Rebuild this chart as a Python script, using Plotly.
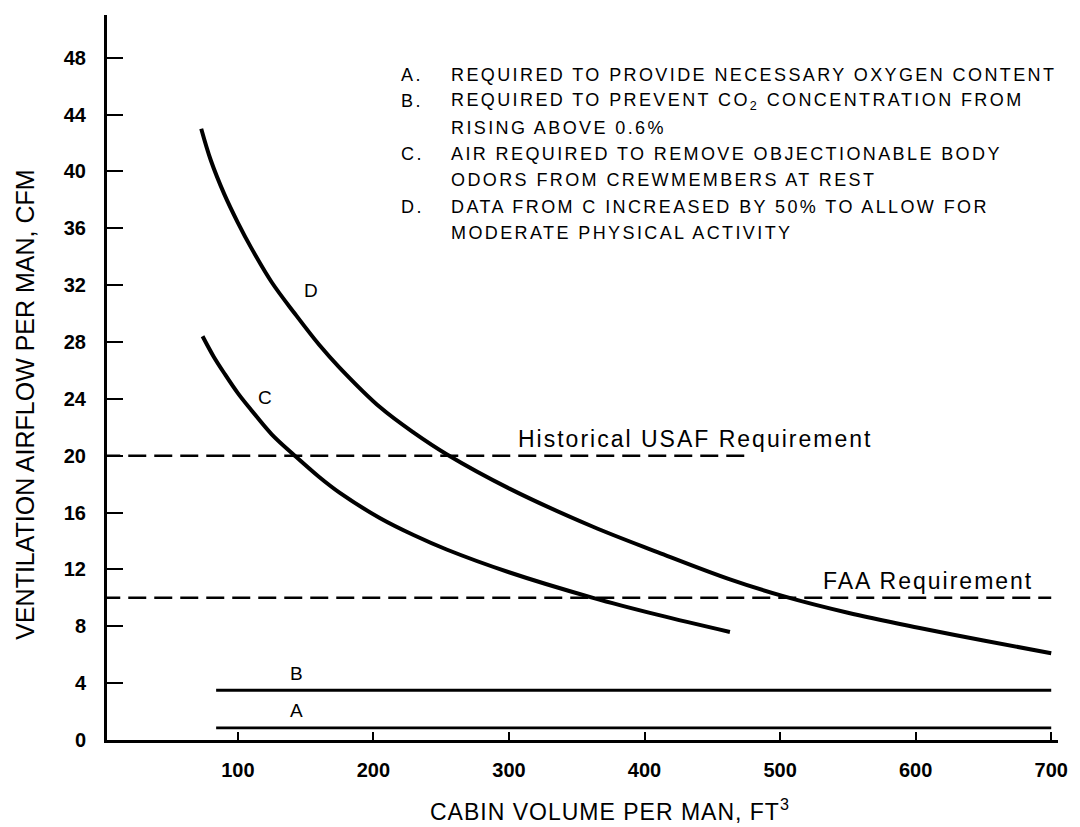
import plotly.graph_objects as go

# Cabin volume per man (ft^3) and ventilation airflow per man (CFM)
c_volume = [74, 82, 90, 100, 110, 125, 142, 160, 175, 205, 230, 254, 300, 362, 410, 463]
c_airflow = [28.4, 27.0, 25.8, 24.4, 23.2, 21.5, 20.0, 18.5, 17.4, 15.6, 14.4, 13.4, 11.8, 10.0, 8.8, 7.6]

d_volume = [73, 80, 90, 100, 110, 125, 142, 160, 175, 205, 230, 254, 300, 362, 410, 463,
            503, 550, 602, 650, 700]
d_airflow = [43.0, 40.8, 38.4, 36.4, 34.6, 32.2, 30.0, 27.8, 26.2, 23.4, 21.6, 20.1, 17.7, 15.0,
             13.2, 11.3, 10.1, 8.95, 7.9, 7.0, 6.1]

ab_volume = [84, 700]
a_airflow = [0.85, 0.85]
b_airflow = [3.5, 3.5]

usaf_volume = [0, 478]
usaf_airflow = [20, 20]
faa_volume = [0, 700]
faa_airflow = [10, 10]

x_ticks = [100, 200, 300, 400, 500, 600, 700]
y_ticks = [0, 4, 8, 12, 16, 20, 24, 28, 32, 36, 40, 44, 48]

notes = [
    ("A.", "REQUIRED TO PROVIDE NECESSARY OXYGEN CONTENT"),
    ("B.", "REQUIRED TO PREVENT CO<sub>2</sub> CONCENTRATION FROM"),
    ("", "RISING ABOVE 0.6%"),
    ("C.", "AIR REQUIRED TO REMOVE OBJECTIONABLE BODY"),
    ("", "ODORS FROM CREWMEMBERS AT REST"),
    ("D.", "DATA FROM C INCREASED BY 50% TO ALLOW FOR"),
    ("", "MODERATE PHYSICAL ACTIVITY"),
]

FONT = "Liberation Sans, Arial, sans-serif"
W, H = 1080, 827
L, R, T, B = 107, 1067, 15, 740


def px_x(px):
    return (px - L) / (R - L)


def px_y(py):
    return (B - py) / (B - T)


fig = go.Figure()

solid = dict(color="black", width=4, shape="spline", smoothing=1.0)
fig.add_trace(go.Scatter(x=d_volume, y=d_airflow, mode="lines", line=solid, hoverinfo="skip"))
fig.add_trace(go.Scatter(x=c_volume, y=c_airflow, mode="lines", line=solid, hoverinfo="skip"))
fig.add_trace(go.Scatter(x=ab_volume, y=b_airflow, mode="lines",
                         line=dict(color="black", width=2.8), hoverinfo="skip"))
fig.add_trace(go.Scatter(x=ab_volume, y=a_airflow, mode="lines",
                         line=dict(color="black", width=2.8), hoverinfo="skip"))
dashed = dict(color="black", width=2.5, dash="18px,8px")
fig.add_trace(go.Scatter(x=usaf_volume, y=usaf_airflow, mode="lines", line=dashed, hoverinfo="skip"))
fig.add_trace(go.Scatter(x=faa_volume, y=faa_airflow, mode="lines", line=dashed, hoverinfo="skip"))

ann = []
# curve letters
for txt, xv, yv in [("D", 154, 31.6), ("C", 120, 24.1), ("B", 143, 4.65), ("A", 143, 2.05)]:
    ann.append(dict(x=xv, y=yv, xref="x", yref="y", text=txt, showarrow=False,
                    font=dict(size=19, family=FONT, color="black")))

# requirement labels
req_style = '<span style="letter-spacing:2px">{}</span>'
ann.append(dict(x=305, y=21.2, xref="x", yref="y", xanchor="left",
                text=req_style.format("Historical USAF Requirement"), showarrow=False,
                font=dict(size=23, family=FONT, color="black")))
ann.append(dict(x=530, y=11.2, xref="x", yref="y", xanchor="left",
                text=req_style.format("FAA Requirement"), showarrow=False,
                font=dict(size=23, family=FONT, color="black")))

# explanatory notes
note_style = '<span style="letter-spacing:2.4px">{}</span>'
for i, (key, line) in enumerate(notes):
    yc = 75 + 26.3 * i
    if key:
        ann.append(dict(x=px_x(402), y=px_y(yc), xref="paper", yref="paper",
                        xanchor="left", yanchor="middle", showarrow=False,
                        text=note_style.format(key),
                        font=dict(size=18, family=FONT, color="black")))
    ann.append(dict(x=px_x(452), y=px_y(yc), xref="paper", yref="paper",
                    xanchor="left", yanchor="middle", showarrow=False,
                    text=note_style.format(line),
                    font=dict(size=18, family=FONT, color="black")))

# axis titles
ann.append(dict(x=px_x(24), y=px_y(405), xref="paper", yref="paper",
                xanchor="center", yanchor="middle", textangle=-90, showarrow=False,
                text="VENTILATION AIRFLOW PER MAN, CFM",
                font=dict(size=25, family=FONT, color="black")))
ann.append(dict(x=px_x(615), y=px_y(810), xref="paper", yref="paper",
                xanchor="center", yanchor="middle", showarrow=False,
                text='<span style="letter-spacing:1px">CABIN VOLUME PER MAN, FT<sup>3</sup></span>',
                font=dict(size=23, family=FONT, color="black")))

fig.update_layout(
    width=W, height=H,
    margin=dict(l=L, r=W - R, t=T, b=H - B),
    paper_bgcolor="white", plot_bgcolor="white",
    showlegend=False,
    annotations=ann,
    font=dict(family=FONT, color="black"),
)
fig.update_xaxes(
    range=[3.5, 705], tickvals=x_ticks, ticktext=[str(v) for v in x_ticks],
    showgrid=False, zeroline=False, showline=True, linecolor="black", linewidth=3,
    ticks="inside", ticklen=8, tickwidth=2, tickcolor="black",
    tickfont=dict(size=20, family="Liberation Sans, Arial", color="black", weight="bold"),
    ticklabelstandoff=10,
)
fig.update_yaxes(
    range=[0, 51], tickvals=y_ticks, ticktext=[str(v) for v in y_ticks],
    showgrid=False, zeroline=False, showline=True, linecolor="black", linewidth=3,
    ticks="inside", ticklen=16, tickwidth=2, tickcolor="black",
    tickfont=dict(size=20, family="Liberation Sans, Arial", color="black", weight="bold"),
    ticklabelstandoff=14,
)

fig.write_html("out.html")
